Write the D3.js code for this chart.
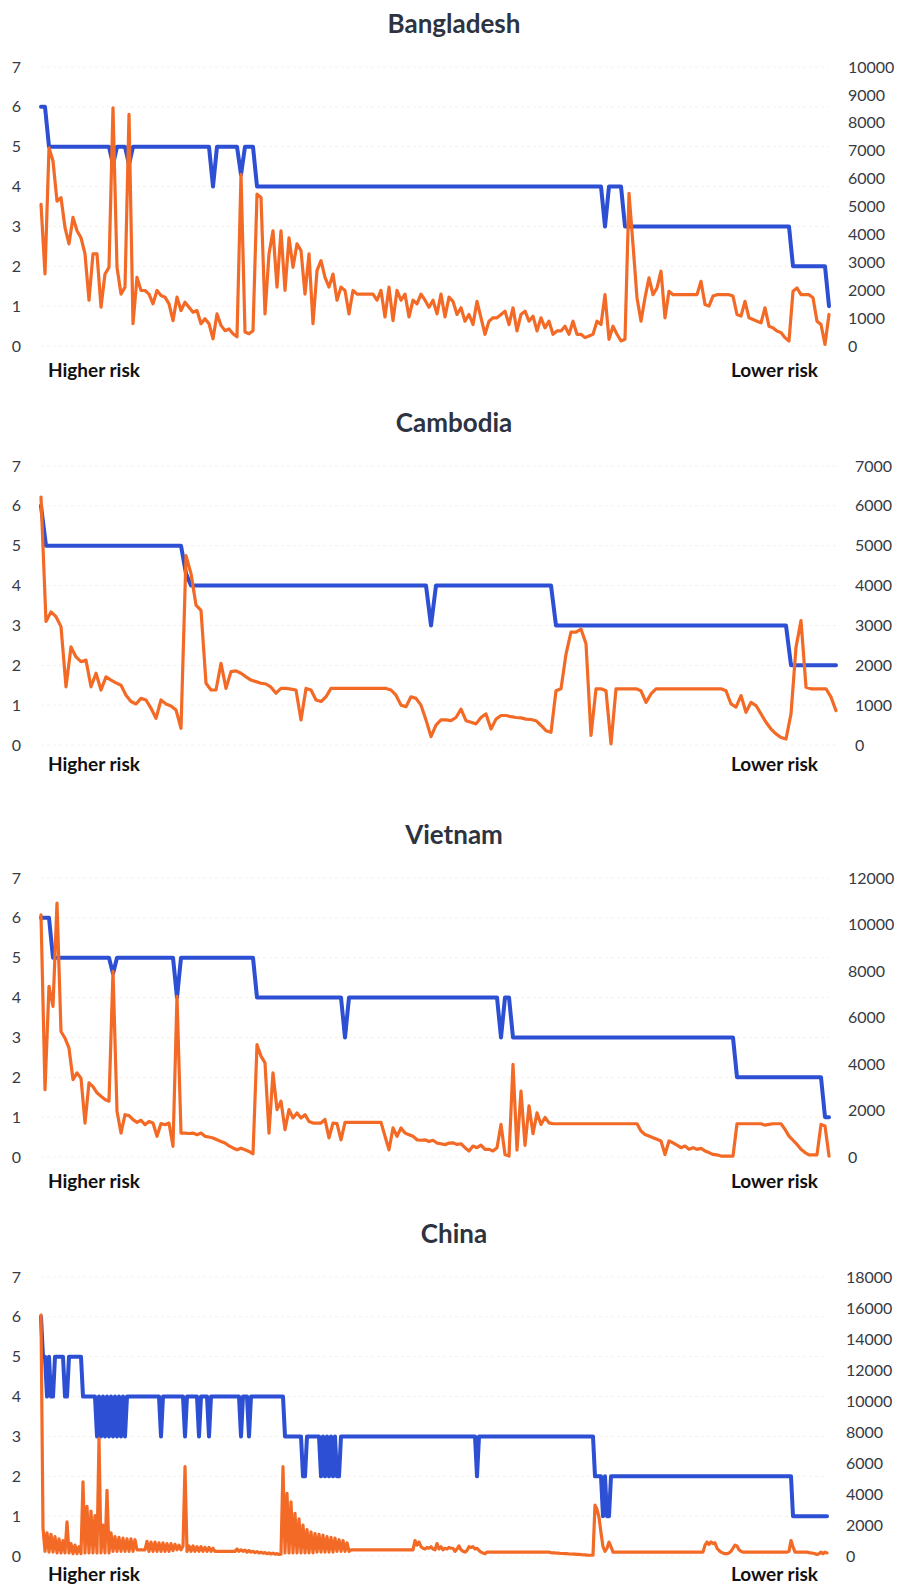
<!DOCTYPE html>
<html>
<head>
<meta charset="utf-8">
<script src="https://cdn.jsdelivr.net/npm/d3@7"></script>
<style>
  body { margin: 0; background: #fff; }
  svg { display: block; }
</style>
</head>
<body>
<svg id="chart" width="902" height="1587"></svg>
<script>
// ---- data -------------------------------------------------------------
const countryNames = ["Bangladesh", "Cambodia", "Vietnam", "China"];
const riskTicks = [0, 1, 2, 3, 4, 5, 6, 7];

const bangladeshCountTicks = [0, 1000, 2000, 3000, 4000, 5000, 6000, 7000, 8000, 9000, 10000];
const cambodiaCountTicks = [0, 1000, 2000, 3000, 4000, 5000, 6000, 7000];
const vietnamCountTicks = [0, 2000, 4000, 6000, 8000, 10000, 12000];
const chinaCountTicks = [0, 2000, 4000, 6000, 8000, 10000, 12000, 14000, 16000, 18000];

// Risk level per point, stored as runs of [level, number of consecutive points]
const bangladeshRiskRuns = [[6,2],[5,16],[4.55,1],[5,3],[4.55,1],[5,20],[4,1],[5,6],[4.3,1],[5,3],
  [4,87],[3,1],[4,4],[3,42],[2,9],[1,1]];
const cambodiaRiskRuns = [[6,1],[5,28],[4.3,1],[4,48],[3,1],[4,24],[3,47],[2,10]];
const vietnamRiskRuns = [[6,3],[5,15],[4.6,1],[5,15],[4,1],[5,19],[4,22],[3,1],[4,38],[3,1],[4,2],
  [3,56],[2,22],[1,2]];
const chinaRiskRuns = [[6,1],[5,2],[4,1],[5,1],[4,2],[5,5],[4,2],[5,7],[4,7],
  [3,1],[4,1],[3,1],[4,1],[3,1],[4,1],[3,1],[4,1],[3,1],[4,1],[3,1],[4,1],[3,1],[4,1],[3,1],
  [4,17],[3,1],[4,11],[3,1],[4,6],[3,1],[4,4],[3,1],[4,15],[3,1],[4,3],[3,1],[4,17],
  [3,9],[2,2],[3,7],[2,1],[3,1],[2,1],[3,1],[2,1],[3,1],[2,1],[3,1],[2,2],[3,68],
  [2,1],[3,58],[2,4],[1,1],[2,1],[1,2],[2,91],[1,18]];

// Counts per point (right axis)
const bangladeshCounts = [
  5080,2580,7100,6630,5190,5320,4240,3660,4610,4130,
  3880,3300,1640,3300,3300,1390,2580,2820,8540,2820,
  1860,2110,8300,800,2460,1990,1990,1860,1510,1990,
  1810,1750,1510,910,1750,1270,1570,1390,1210,1270,
  800,980,800,260,1150,740,550,610,440,330,
  6150,500,440,550,5440,5320,1150,3300,4130,2110,
  4130,1990,3880,2820,3660,3420,1860,3300,800,2700,
  3060,2460,2110,2580,1640,2110,1990,1150,1990,1860,
  1860,1860,1860,1860,1640,1990,1040,2110,910,1990,
  1640,1860,1040,1640,1510,1860,1640,1390,1640,1150,
  1860,1040,1750,1600,1130,1370,890,1130,770,1600,
  1010,420,890,1010,1010,1130,1250,770,1370,540,
  1130,1250,890,1070,540,1010,650,890,420,540,
  540,710,420,890,420,420,300,360,420,890,
  770,1840,240,710,420,180,240,5470,3630,1730,
  890,1730,2440,1840,2080,2680,1010,1960,1840,1840,
  1840,1840,1840,1840,1840,2320,1490,1430,1790,1840,
  1840,1840,1840,1790,1130,1070,1600,1010,950,890,
  830,1370,710,650,540,480,300,180,1960,2080,
  1840,1840,1840,1730,890,770,60,1130
];
const cambodiaCounts = [
  6220,3100,3340,3220,2970,1460,2460,2210,2090,2130,
  1460,1800,1380,1710,1630,1560,1500,1250,1090,1030,
  1170,1130,920,670,1130,1030,980,880,420,4750,
  4300,3510,3380,1550,1380,1380,2050,1420,1840,1860,
  1800,1710,1630,1590,1550,1530,1450,1300,1420,1420,
  1400,1380,630,1420,1380,1130,1090,1210,1420,1420,
  1420,1420,1420,1420,1420,1420,1420,1420,1420,1420,
  1380,1250,1000,960,1210,1170,1000,630,210,500,
  630,630,610,690,900,610,570,530,690,780,
  400,650,740,740,710,690,680,650,640,610,
  490,360,320,1360,1410,2280,2830,2830,2910,2540,
  240,1410,1410,1360,30,1410,1410,1410,1410,1410,
  1360,1070,1280,1410,1410,1410,1410,1410,1410,1410,
  1410,1410,1410,1410,1410,1410,1410,1360,1030,950,
  1240,820,1070,990,780,570,400,280,190,150,
  780,2450,3120,1450,1410,1410,1410,1410,1200,860
];
const vietnamCounts = [
  10420,2900,7340,6480,10920,5400,5110,4680,3330,3620,
  3390,1460,3190,3030,2760,2610,2470,2400,7990,1970,
  1030,1820,1780,1610,1490,1580,1390,1530,1460,890,
  1440,1390,1460,460,6910,1030,1030,1010,1030,960,
  1030,890,860,820,740,670,600,480,390,310,
  380,310,240,140,4830,4340,4050,1030,3620,2040,
  2400,1180,2040,1680,1890,1680,1820,1530,1460,1460,
  1460,1610,820,1460,1440,740,1490,1490,1490,1490,
  1490,1490,1490,1490,1490,1490,890,310,1250,890,
  1250,1030,960,890,740,720,740,670,720,600,
  570,530,600,610,540,570,400,260,470,400,
  510,330,330,260,400,1400,110,40,3980,300,
  2830,500,2200,1000,1900,1400,1700,1470,1430,1430,
  1430,1430,1430,1430,1430,1430,1430,1430,1430,1430,
  1430,1430,1430,1430,1430,1430,1430,1430,1430,1430,
  1120,970,900,830,760,690,110,690,610,510,
  400,470,330,400,330,370,260,190,110,90,
  40,40,40,40,1430,1430,1430,1430,1430,1430,
  1430,1370,1400,1430,1430,1430,1190,900,720,540,
  330,190,90,90,90,1400,1330,40
];
const chinaCounts = [
  15550,1800,
  300,1500,250,1400,250,1250,200,1100,200,1000,200,2210,200,800,150,700,150,600,150,
  4780,
  200,3200,200,2900,200,2600,200,7580,200,2000,200,4240,200,1500,
  300,1250,300,1200,300,1150,300,1100,300,1100,300,1050,
  400,390,390,390,390,
  950,300,900,300,900,300,850,300,850,300,800,300,800,350,750,
  400,700,400,650,
  5760,
  300,650,300,650,300,600,300,600,300,550,300,550,300,500,300,
  300,300,300,300,300,300,300,300,300,300,
  450,300,400,300,380,250,350,250,300,220,280,200,250,180,220,150,200,130,180,120,150,100,120,
  5760,
  200,4040,200,3500,200,2750,200,2400,200,2000,200,1700,200,1550,200,1450,
  250,1400,250,1350,250,1250,250,1200,250,1150,300,1050,300,1000,300,850,300,
  390,390,390,390,390,390,390,390,390,390,390,390,390,390,390,390,
  390,390,390,390,390,390,390,390,390,390,390,390,390,390,390,390,
  1000,700,900,600,500,450,550,500,600,450,400,800,450,600,400,500,450,550,500,
  500,300,450,650,400,300,250,350,600,550,600,450,500,350,250,200,150,
  250,250,250,250,250,250,250,250,250,250,250,250,250,250,250,250,
  250,250,250,250,250,250,250,250,250,250,250,250,250,250,250,250,
  220,200,200,180,180,160,160,150,150,130,130,120,120,100,100,90,80,70,60,50,50,60,
  3280,3000,2500,1500,600,300,500,900,600,250,
  250,250,250,250,250,250,250,250,250,250,250,250,250,250,250,
  250,250,250,250,250,250,250,250,250,250,250,250,250,250,250,
  250,250,250,250,250,250,250,250,250,250,250,250,250,250,250,
  700,900,750,900,800,850,500,350,250,200,150,150,200,300,500,700,650,400,300,250,
  250,250,250,250,250,250,250,250,250,250,250,
  250,250,250,250,250,250,250,250,250,250,250,
  300,1000,600,250,250,250,250,250,250,250,220,200,180,150,100,150,250,150,250,200
];

// ---- layout -----------------------------------------------------------
const plotLeft = 41;
const plotHeight = 279;
const panelTops = [67, 466, 878, 1277];
const panelRights = [829, 836, 829, 827];
const riskLabelY = [370, 764, 1181, 1574];

const FONT = "Lato, 'Open Sans', 'DejaVu Sans', sans-serif";
const RISK_COLOR = "#2c4fd3";
const COUNT_COLOR = "#f36a26";

const series = [
  { name: countryNames[0], runs: bangladeshRiskRuns, counts: bangladeshCounts, ticks: bangladeshCountTicks },
  { name: countryNames[1], runs: cambodiaRiskRuns, counts: cambodiaCounts, ticks: cambodiaCountTicks },
  { name: countryNames[2], runs: vietnamRiskRuns, counts: vietnamCounts, ticks: vietnamCountTicks },
  { name: countryNames[3], runs: chinaRiskRuns, counts: chinaCounts, ticks: chinaCountTicks }
];

const svg = d3.select("#chart");

series.forEach((s, k) => {
  const top = panelTops[k];
  const bottom = top + plotHeight;
  const right = panelRights[k];
  const g = svg.append("g");

  const risk = s.runs.flatMap(([level, n]) => Array(n).fill(level));
  const n = s.counts.length;

  const x = d3.scaleLinear().domain([0, n - 1]).range([plotLeft, right]);
  const yRisk = d3.scaleLinear().domain([0, 7]).range([bottom, top]);
  const yCount = d3.scaleLinear().domain([0, d3.max(s.ticks)]).range([bottom, top]);

  // faint horizontal gridlines
  g.append("g")
    .selectAll("line")
    .data(riskTicks)
    .join("line")
    .attr("x1", plotLeft)
    .attr("x2", right)
    .attr("y1", d => yRisk(d))
    .attr("y2", d => yRisk(d))
    .attr("stroke", "#f5f3e6")
    .attr("stroke-width", 1)
    .attr("stroke-dasharray", "3,3");

  // title
  g.append("text")
    .attr("x", 454)
    .attr("y", top - 43)
    .attr("dy", "0.35em")
    .attr("text-anchor", "middle")
    .attr("font-family", FONT)
    .attr("font-weight", 700)
    .attr("font-size", 26)
    .attr("fill", "#2d3340")
    .text(s.name);

  // left axis: risk level
  const leftAxis = g.append("g")
    .attr("transform", `translate(${plotLeft},0)`)
    .call(d3.axisLeft(yRisk).tickValues(riskTicks).tickFormat(d3.format("d")).tickSize(0).tickPadding(20));
  // right axis: counts
  const rightAxis = g.append("g")
    .attr("transform", `translate(${right},0)`)
    .call(d3.axisRight(yCount).tickValues(s.ticks).tickFormat(d3.format("d")).tickSize(0).tickPadding(19));

  [leftAxis, rightAxis].forEach(ax => {
    ax.select(".domain").remove();
    ax.attr("font-family", FONT).attr("font-size", 16);
    ax.selectAll("text").attr("fill", "#363a44");
  });

  // risk level line
  g.append("path")
    .datum(risk)
    .attr("fill", "none")
    .attr("stroke", RISK_COLOR)
    .attr("stroke-width", 4)
    .attr("stroke-linejoin", "round")
    .attr("stroke-linecap", "round")
    .attr("d", d3.line().x((d, i) => x(i)).y(d => yRisk(d)));

  // count line
  g.append("path")
    .datum(s.counts)
    .attr("fill", "none")
    .attr("stroke", COUNT_COLOR)
    .attr("stroke-width", 3.2)
    .attr("stroke-linejoin", "round")
    .attr("stroke-linecap", "round")
    .attr("d", d3.line().x((d, i) => x(i)).y(d => yCount(d)));

  // end labels
  [["Higher risk", 48, "start"], ["Lower risk", 818, "end"]].forEach(([label, lx, anchor]) => {
    g.append("text")
      .attr("x", lx)
      .attr("y", riskLabelY[k])
      .attr("dy", "0.35em")
      .attr("text-anchor", anchor)
      .attr("font-family", FONT)
      .attr("font-weight", 700)
      .attr("font-size", 19)
      .attr("fill", "#111")
      .text(label);
  });
});
</script>
</body>
</html>
